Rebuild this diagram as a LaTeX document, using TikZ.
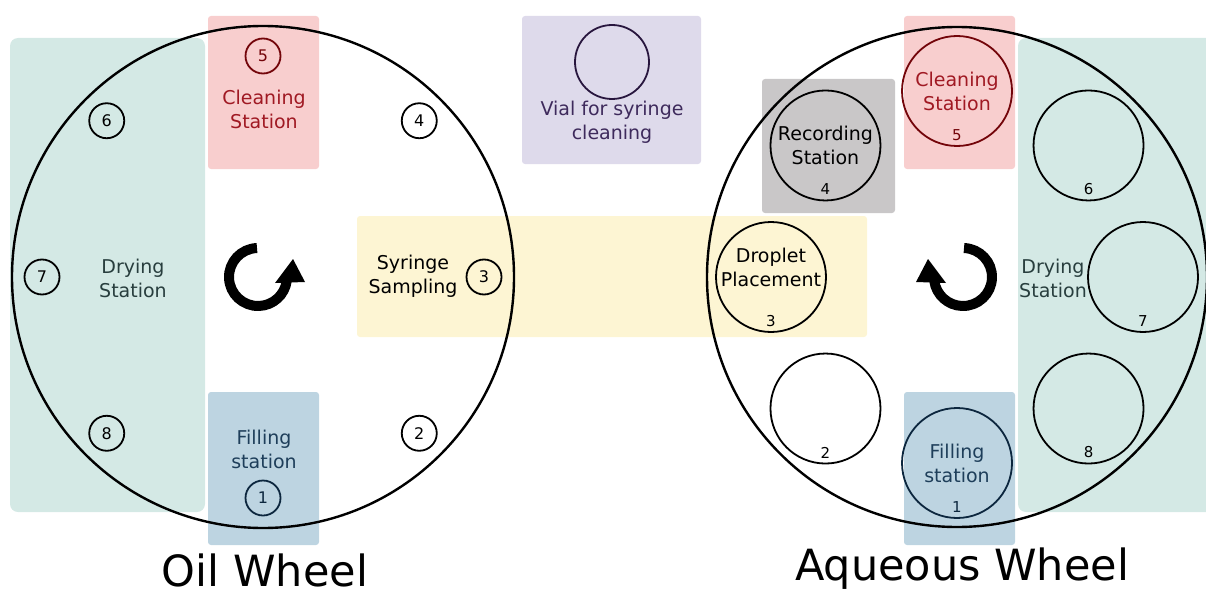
\documentclass[tikz,border=0pt]{standalone}
\usepackage{fontspec}
\setmainfont{DejaVu Sans}
\usetikzlibrary{arrows.meta,positioning}
\definecolor{cTeal}{RGB}{212,233,229}
\definecolor{cPink}{RGB}{248,206,206}
\definecolor{cBlue}{RGB}{189,212,225}
\definecolor{cYellow}{RGB}{253,245,211}
\definecolor{cLav}{RGB}{222,218,235}
\definecolor{cGray}{RGB}{201,199,200}
\definecolor{cRedTxt}{RGB}{160,25,35}
\definecolor{cRedLine}{RGB}{115,5,10}
\definecolor{cBlueTxt}{RGB}{30,62,90}
\definecolor{cBlueLine}{RGB}{12,38,62}
\definecolor{cDryTxt}{RGB}{40,62,62}
\definecolor{cVialTxt}{RGB}{62,42,92}
\definecolor{cVialLine}{RGB}{40,22,62}
\tikzset{
  zone/.style={rounded corners=3pt},
  wheel/.style={draw=black,line width=2.4pt},
  oilst/.style={circle,line width=1.8pt,minimum size=35pt,inner sep=0pt,
                font=\fontsize{16}{16}\selectfont},
  aqst/.style={circle,line width=1.8pt,minimum size=110pt,inner sep=0pt},
  aqnum/.style={font=\fontsize{15}{15}\selectfont,inner sep=0pt},
  lbl/.style={align=center,font=\fontsize{19}{24}\selectfont,inner sep=0pt},
  title/.style={anchor=base,font=\fontsize{43}{43}\selectfont,inner sep=0pt},
  turn/.style={line width=10pt}
}
\begin{document}
\begin{tikzpicture}[x=1pt,y=1pt]
  \useasboundingbox (0,0) rectangle (1206,-591);

  % coloured zones
  \fill[cTeal,rounded corners=8pt] (10,-38) rectangle (205,-512);
  \fill[cTeal,rounded corners=8pt] (1018,-38) rectangle (1214,-512);
  \fill[cPink,zone] (208,-16) rectangle (319,-169);
  \fill[cBlue,zone] (208,-392) rectangle (319,-545);
  \fill[cPink,zone] (904,-16) rectangle (1015,-169);
  \fill[cBlue,zone] (904,-392) rectangle (1015,-545);
  \fill[cYellow,zone] (357,-216) rectangle (867,-337);
  \fill[cLav,zone] (522,-16) rectangle (701,-164);
  \fill[cGray,zone] (762,-79) rectangle (895,-213);

  % wheels
  \coordinate (oil) at (263,-277);
  \coordinate (aq) at (957,-277);
  \draw[wheel] (oil) circle[radius=251];
  \draw[wheel] (aq) circle[radius=250];

  % oil wheel positions
  \foreach \n/\c in {1/cBlueLine,2/black,3/black,4/black,5/cRedLine,6/black,7/black,8/black}
    \path (oil) ++({-90+45*(\n-1)}:221) node[oilst,draw=\c,text=\c] (o\n) {\n};

  % aqueous wheel positions
  \foreach \n/\c in {1/cBlueLine,2/black,3/black,4/black,5/cRedLine,6/black,7/black,8/black}
    \path (aq) ++({-90-45*(\n-1)}:186) node[aqst,draw=\c] (a\n) {}
      node[aqnum,text=\c,yshift=-44pt] (a\n num) {\n};

  % vial
  \node[circle,draw=cVialLine,line width=1.8pt,minimum size=74pt] (vial) at (612,-62) {};
  \node[lbl,text=cVialTxt] (vialtxt) at (612,-122) {Vial for syringe\\cleaning};

  % labels
  \node[lbl,text=cRedTxt] (oclean) at (264,-109) {Cleaning\\Station};
  \node[lbl,text=cBlueTxt] (ofill) at (264,-449) {Filling\\station};
  \node[lbl,text=cDryTxt] (odry) at (133,-278) {Drying\\Station};
  \node[lbl] (syr) at (413,-276) {Syringe\\Sampling};
  \node[lbl] (arec) at (a4) {Recording\\Station};
  \node[lbl,text=cRedTxt] (aclean) at (a5) {Cleaning\\Station};
  \node[lbl,text=cBlueTxt] (afill) at (a1) {Filling\\station};
  \node[lbl] (adrop) at ([yshift=10pt]a3) {Droplet\\Placement};
  \node[lbl,text=cDryTxt] (adry) at (1053,-278) {Drying\\Station};

  % rotation
  \coordinate (oilturn) at (258,-277);
  \coordinate (aqturn) at (963,-277);
  \draw[turn] (oilturn) ++(92:29) arc[start angle=92,end angle=352,radius=29];
  \fill (oilturn) ++(17,-6) -- ++(30,1) -- ++(-12,23) -- cycle;
  \draw[turn] (aqturn) ++(88:29) arc[start angle=88,end angle=-172,radius=29];
  \fill (aqturn) ++(-17,-6) -- ++(-30,1) -- ++(12,23) -- cycle;

  % titles
  \node[title] (oiltitle) at (265,-586) {Oil Wheel};
  \node[title] (aqtitle) at (962,-580) {Aqueous Wheel};
\end{tikzpicture}
\end{document}
